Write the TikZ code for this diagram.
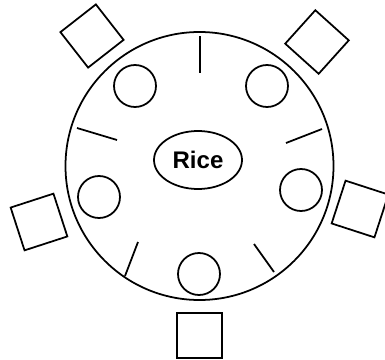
\documentclass[tikz,border=0pt]{standalone}
\usepackage{fontspec}
\setmainfont{Liberation Sans}
\usetikzlibrary{shapes.geometric}

\begin{document}
\begin{tikzpicture}[
  x=0.03cm, y=-0.03cm,
  line width=1.5pt,
  tbl/.style={draw, circle, minimum size=8.04cm, inner sep=0pt},
  dish/.style={draw, ellipse, minimum width=2.64cm, minimum height=1.74cm, inner sep=0pt, font=\fontsize{20.5}{22}\selectfont\bfseries},
  plate/.style={draw, circle, minimum size=1.26cm, inner sep=0pt},
  chair/.style={draw, rectangle, minimum size=1.35cm, inner sep=0pt},
  stick/.style={line width=1.5pt},
]
\useasboundingbox (0,0) rectangle (385,360);

% ---- table and rice
\node[tbl] (table) at (199.5,166) {};
\node[dish] (rice) at (198,160) {Rice};

% ---- plates
\node[plate] (pTL) at (135,86) {};
\node[plate] (pTR) at (267,86) {};
\node[plate] (pL) at (99,197) {};
\node[plate] (pR) at (301,190) {};
\node[plate] (pB) at (199,274) {};

% ---- chopsticks
\draw[stick] (200,36) -- (200,73);
\draw[stick] (77,128) -- (117,140);
\draw[stick] (286,143) -- (322,129);
\draw[stick] (138,242) -- (125,276);
\draw[stick] (254,244) -- (274,272);

% ---- chairs
\node[chair, rotate=38] (cTL) at (92,36) {};
\node[chair, rotate=-42] (cTR) at (317,42) {};
\node[chair, rotate=18] (cL) at (39,222) {};
\node[chair, rotate=-18] (cR) at (360,209) {};
\node[chair] (cB) at (199.5,335.5) {};
\end{tikzpicture}
\end{document}
